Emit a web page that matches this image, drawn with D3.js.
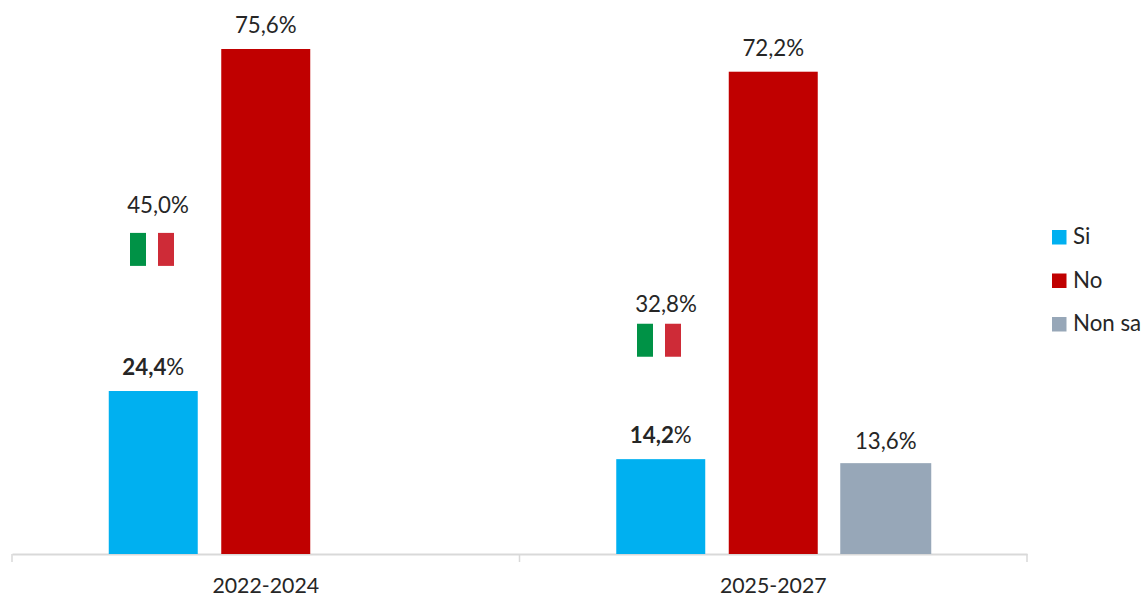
<!DOCTYPE html>
<html><head><meta charset="utf-8">
<script src="https://cdn.jsdelivr.net/npm/d3@7"></script>
<style>html,body{margin:0;padding:0;background:#fff}svg{display:block}text{font-family:Lato,"Open Sans",sans-serif;fill:#262626}</style>
</head><body><svg id="c" width="1144" height="595"></svg>
<script>
const periods = ["2022-2024","2025-2027"];
const seriesNames = ["Si","No","Non sa"];
const colors = ["#00B0F0","#C00000","#97A7B8"];
const si = [24.4,14.2];
const no = [75.6,72.2];
const nonSa = [null,13.6];
const italy = [45.0,32.8];
const italyMarkLevel = [45.6,32.0];
const fmt = v => v.toFixed(1).replace(".",",");

const svg = d3.select("#c");
const base = 554, fs = 22.3;
const x0 = d3.scaleBand().domain(periods).range([12,1027]);
const x1 = d3.scaleBand().domain(seriesNames).range([0,x0.bandwidth()]).paddingInner(0.209).paddingOuter(0.86);
const y = d3.scaleLinear().domain([0,75.6]).range([base,49]);
const rows = [si,no,nonSa];

const axis = d3.axisBottom(x0).tickSize(0).tickPadding(0);
const ag = svg.append("g").attr("transform",`translate(0,${base})`).call(axis);
ag.select(".domain").attr("stroke","#d9d9d9").attr("stroke-width",2);
ag.selectAll(".tick text").attr("y",31).attr("dy",".36em").style("font-size","21.3px").style("font-family","Lato").attr("fill","#262626");
const edges = [12, 12+x0.step(), 12+2*x0.step()];
ag.selectAll("line.sep").data(edges).join("line").attr("class","sep")
  .attr("x1",d=>d).attr("x2",d=>d).attr("y1",0).attr("y2",8).attr("stroke","#d9d9d9").attr("stroke-width",1.5);

const labelGap = [24,24,22];
periods.forEach((p,i)=>{
  rows.forEach((r,s)=>{
    const v=r[i]; if(v==null) return;
    const bx=x0(p)+x1(seriesNames[s])-(s==2?1:0);
    svg.append("rect").attr("x",bx).attr("y",y(v)).attr("width",x1.bandwidth()+(s==2?2:0)).attr("height",base-y(v)).attr("fill",colors[s]);
    const t=svg.append("text").attr("x",bx+x1.bandwidth()/2+(s==2?1:0)).attr("y",y(v)-labelGap[s]).attr("dy",".36em")
      .attr("text-anchor","middle").style("font-size",fs+"px");
    if(s==0){ t.append("tspan").style("font-weight",700).text(fmt(v)); t.append("tspan").text("%"); }
    else t.text(fmt(v)+"%");
  });
  // Italian reference
  const cx=Math.floor(x0(p)+x1("Si")+x1.bandwidth()/2+5), cy=y(italyMarkLevel[i]);
  const g=svg.append("g");
  g.append("rect").attr("x",cx-28).attr("y",cy-16.5).attr("width",16).attr("height",33).attr("fill","#009246");
  g.append("rect").attr("x",cx).attr("y",cy-16.5).attr("width",16).attr("height",33).attr("fill","#CE2B37");
  svg.append("text").attr("x",cx+(i==1?1:0)).attr("y",i==0?cy-44:cy-36).attr("dy",".36em").attr("text-anchor","middle").style("font-size",fs+"px").text(fmt(italy[i])+"%");
});

const ly=d3.scalePoint().domain(seriesNames).range([237,324]);
seriesNames.forEach((n,i)=>{
  svg.append("rect").attr("x",1052).attr("y",ly(n)-7).attr("width",14.5).attr("height",14.5).attr("fill",colors[i]);
  svg.append("text").attr("x",1073).attr("y",ly(n)-1).attr("dy",".36em").style("font-size",fs+"px").text(n);
});
</script></body></html>
